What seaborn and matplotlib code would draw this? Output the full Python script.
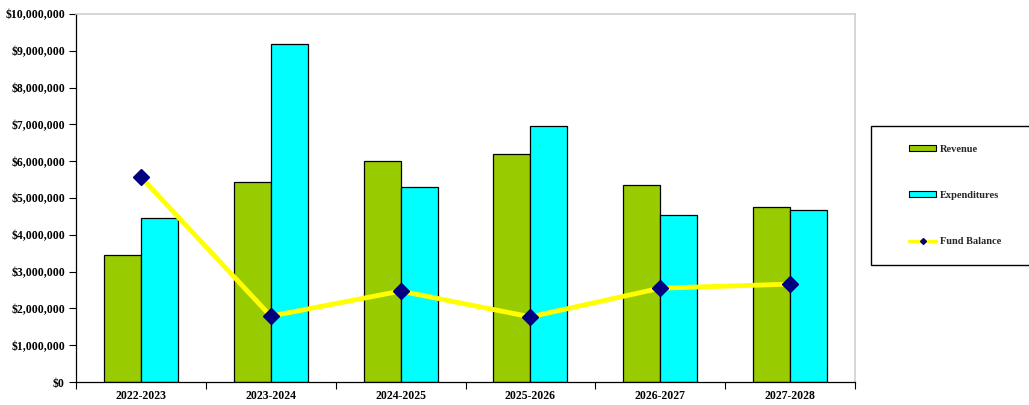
import numpy as np
import pandas as pd
import matplotlib
matplotlib.use("Agg")
import matplotlib.pyplot as plt
import seaborn as sns
from matplotlib.patches import Patch, Rectangle
from matplotlib.lines import Line2D
from matplotlib.ticker import FuncFormatter, FixedLocator

# Budget figures by fiscal year
years = ["2022-2023", "2023-2024", "2024-2025", "2025-2026", "2026-2027", "2027-2028"]
revenue = [3450000, 5430000, 6000000, 6200000, 5350000, 4760000]
expenditures = [4460000, 9180000, 5300000, 6960000, 4540000, 4670000]
fund_balance = [5570000, 1790000, 2470000, 1770000, 2550000, 2660000]

series_names = ["Revenue", "Expenditures"]
bar_colors = {"Revenue": "#99CC00", "Expenditures": "#00FFFF"}
line_color = "#FFFF00"
marker_color = "#000080"

df = pd.DataFrame({
    "Year": years * 2,
    "Amount": revenue + expenditures,
    "Series": ["Revenue"] * len(years) + ["Expenditures"] * len(years),
})

sns.set_theme(style="white")
plt.rcParams["font.family"] = ["Liberation Serif", "DejaVu Serif"]

W, H = 1029, 405
fig = plt.figure(figsize=(W / 100, H / 100), dpi=100)
ax = fig.add_axes([76 / W, 23 / H, (855 - 76) / W, (382 - 14) / H])

sns.barplot(data=df, x="Year", y="Amount", hue="Series", hue_order=series_names,
            palette=bar_colors, width=0.57, edgecolor="black", linewidth=0.9,
            saturation=1, ax=ax, legend=False)

x = np.arange(len(years))
ax.plot(x, fund_balance, color=line_color, linewidth=3.5, zorder=4,
        solid_capstyle="round")
ax.plot(x, fund_balance, linestyle="none", marker="D", markersize=8,
        color=marker_color, zorder=5)

ax.set_xlim(-0.5, len(years) - 0.5)
ax.set_ylim(0, 10000000)
ax.yaxis.set_major_locator(FixedLocator(np.arange(0, 10000001, 1000000)))
ax.yaxis.set_major_formatter(FuncFormatter(lambda v, p: f"${v:,.0f}"))
ax.set_xlabel("")
ax.set_ylabel("")

# boundary ticks between categories on the x axis
ax.set_xticks(x)
ax.set_xticks(np.arange(-0.5, len(years), 1.0), minor=True)
ax.tick_params(axis="x", which="major", length=0, pad=6,
               labelsize=8.5, labelcolor="black")
ax.tick_params(axis="x", which="minor", length=5, width=0.8, color="black",
               direction="out", bottom=True)
ax.tick_params(axis="y", which="major", length=5, width=0.8, color="black",
               direction="out", left=True, pad=3, labelsize=8.5,
               labelcolor="black")
for lbl in ax.get_xticklabels() + ax.get_yticklabels():
    lbl.set_fontweight("bold")

ax.set_facecolor("white")
for side in ("left", "bottom"):
    ax.spines[side].set_color("black")
    ax.spines[side].set_linewidth(0.9)
for side in ("top", "right"):
    ax.spines[side].set_visible(True)
    ax.spines[side].set_color("#d0d0d0")
    ax.spines[side].set_linewidth(1.2)

# legend frame runs off the right edge of the figure
fig.patches.append(Rectangle((871 / W, 1 - 265 / H), 200 / W, (265 - 126) / H,
                             transform=fig.transFigure, facecolor="white",
                             edgecolor="black", linewidth=1.0, zorder=1))

handles = [
    Patch(facecolor=bar_colors["Revenue"], edgecolor="black", linewidth=0.8),
    Patch(facecolor=bar_colors["Expenditures"], edgecolor="black", linewidth=0.8),
    Line2D([0], [0], color=line_color, linewidth=2.5, marker="D",
           markersize=3.0, markerfacecolor=marker_color,
           markeredgecolor=marker_color),
]
leg = fig.legend(handles, ["Revenue", "Expenditures", "Fund Balance"],
                 loc="upper left", bbox_to_anchor=(909 / W, 1 - 145 / H),
                 frameon=False, borderpad=0, labelspacing=3.55,
                 handlelength=2.6, handleheight=0.55, handletextpad=0.35,
                 borderaxespad=0, prop={"size": 7.5, "weight": "bold"})
leg.set_zorder(2)

fig.savefig("out.png", dpi=100, facecolor="white")
